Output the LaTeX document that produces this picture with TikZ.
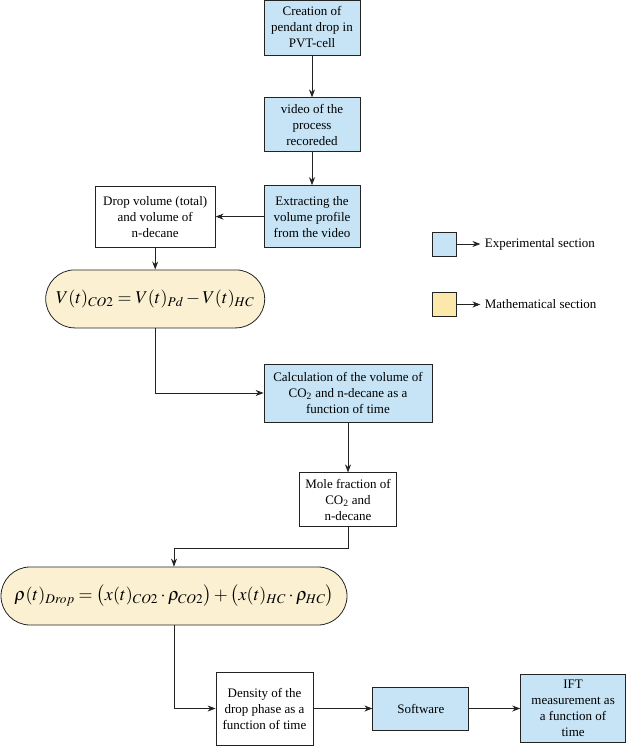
\documentclass[tikz,border=0pt]{standalone}
\usepackage{mathptmx}
\usepackage{fontspec}
\setmainfont{Liberation Serif}
\usepackage{tikz}
\usetikzlibrary{arrows.meta,positioning}

\definecolor{expblue}{RGB}{198,228,246}
\definecolor{mathyellow}{RGB}{251,241,210}
\definecolor{keyyellow}{RGB}{253,232,172}
\definecolor{linegray}{RGB}{35,35,35}

\begin{document}
\begin{tikzpicture}[->,>={Stealth[length=8pt,width=6pt]},line width=0.8pt,draw=linegray,
                    font=\fontsize{13}{16}\selectfont,
                    expbox/.style={draw=linegray,fill=expblue,align=center,inner sep=2pt},
                    plainbox/.style={draw=linegray,fill=white,align=center,inner sep=2pt},
                    mathbox/.style={draw=linegray,fill=mathyellow,rounded corners=29pt,
                                    inner sep=1pt,font=\fontsize{18}{22}\selectfont},
                    keybox/.style={draw=linegray,minimum size=24pt,inner sep=0pt},
                    keytext/.style={inner sep=4pt,anchor=west}]
%  \tikzstyle{every node}=[text=black]
  \useasboundingbox (0,0) rectangle (625pt,-746pt);

  \node[expbox,minimum width=96pt,minimum height=55pt]   (create) at (312pt,-27.5pt) {Creation of\\pendant drop in\\PVT-cell};
  \node[expbox,minimum width=96pt,minimum height=54pt]   (video) [below=42pt of create] {video of the\\process\\recoreded};
  \node[expbox,minimum width=96pt,minimum height=62pt]   (extract) [below=33pt of video] {Extracting the\\volume profile\\from the video};
  \node[plainbox,minimum width=120pt,minimum height=61pt] (dropvol) [left=48pt of extract] {Drop volume (total)\\and volume of\\n-decane};
  \node[mathbox,minimum width=219pt,minimum height=58pt]  (eq1) [below=22pt of dropvol] {$V(t)_{CO2} = V(t)_{Pd} - V(t)_{HC}$};
  \node[expbox,minimum width=168pt,minimum height=58pt]  (calc) at (348pt,-393pt) {Calculation of the volume of\\CO\textsubscript{2} and n-decane as a\\function of time};
  \node[plainbox,minimum width=97pt,minimum height=54pt] (mole) [below=50pt of calc] {Mole fraction of\\CO\textsubscript{2} and\\n-decane};
  \node[mathbox,minimum width=346pt,minimum height=58pt] (eq2) at (174pt,-596pt) {$\rho(t)_{Drop} = \big(x(t)_{CO2}\cdot\rho_{CO2}\big) + \big(x(t)_{HC}\cdot\rho_{HC}\big)$};
  \node[plainbox,minimum width=97pt,minimum height=73pt] (density) at (264.5pt,-708.5pt) {Density of the\\drop phase as a\\function of time};
  \node[expbox,minimum width=96pt,minimum height=43pt]   (software) [right=59pt of density] {Software};
  \node[expbox,minimum width=105pt,minimum height=68pt]  (ift) [right=51pt of software] {IFT\\measurement as\\a function of\\time};

  % legend
  \node[keybox,fill=expblue]    (expkey) at (444pt,-244pt) {};
  \node[keytext]                (exptext) [right=24pt of expkey] {Experimental section};
  \node[keybox,fill=keyyellow]  (mathkey) at (444pt,-304.5pt) {};
  \node[keytext]                (mathtext) [right=24pt of mathkey] {Mathematical section};

  \node[coordinate,below=21pt of mole.south] (molejoin) {};

  \path (create) edge (video)
        (video) edge (extract)
        (extract) edge (dropvol)
        (dropvol) edge (eq1)
        (calc) edge (mole)
        (density) edge (software)
        (software) edge (ift)
        (expkey) edge (exptext)
        (mathkey) edge (mathtext);
  \draw (eq1.south) |- (calc.west);
  \draw (mole.south) -- (molejoin) -| (eq2.north);
  \draw (eq2.south) |- (density.west);
\end{tikzpicture}
\end{document}
